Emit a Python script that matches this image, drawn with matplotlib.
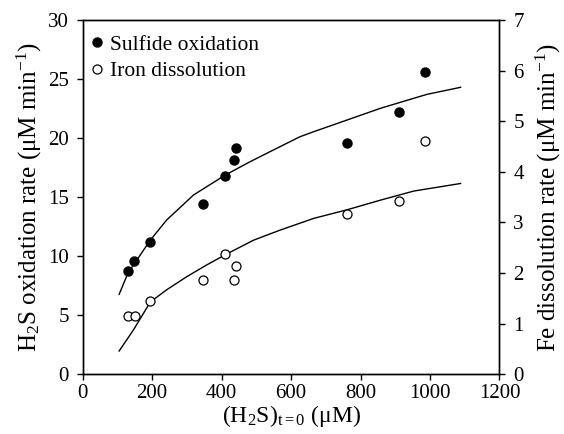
import matplotlib
matplotlib.use("Agg")
import matplotlib.pyplot as plt

plt.rcParams['font.family'] = ['Liberation Serif', 'DejaVu Serif']
plt.rcParams['mathtext.fontset'] = 'custom'
plt.rcParams['mathtext.rm'] = 'Liberation Serif'
plt.rcParams['mathtext.it'] = 'Liberation Serif:italic'
plt.rcParams['mathtext.bf'] = 'Liberation Serif:bold'

# Data
sulfide_x = [130, 149, 195, 346, 411, 437, 440, 762, 911, 987]
sulfide_y = [8.77, 9.57, 11.23, 14.42, 16.77, 18.17, 19.16, 19.56, 22.24, 25.57]

iron_x = [130, 150, 195, 345, 410, 440, 437, 762, 911, 987]
iron_y = [1.15, 1.16, 1.44, 1.86, 2.37, 2.14, 1.86, 3.16, 3.43, 4.61]

sulfide_fit_x = [105, 130, 195, 242, 319, 411, 482, 559, 626, 665, 761, 857, 953, 992, 1088]
sulfide_fit_y = [6.77, 8.55, 11.37, 13.07, 15.18, 16.88, 18.0, 19.14, 20.12, 20.54, 21.53, 22.52, 23.37, 23.71, 24.3]

iron_fit_x = [105, 146, 195, 242, 300, 357, 410, 492, 569, 665, 761, 857, 953, 1088]
iron_fit_y = [0.46, 0.875, 1.43, 1.67, 1.93, 2.16, 2.36, 2.65, 2.85, 3.08, 3.25, 3.44, 3.62, 3.77]

xticks = [0, 200, 400, 600, 800, 1000, 1200]
left_ticks = [0, 5, 10, 15, 20, 25, 30]
right_ticks = [0, 1, 2, 3, 4, 5, 6, 7]

fig = plt.figure(figsize=(5.64, 4.34), dpi=100)
ax = fig.add_axes([0.1466, 0.1376, 0.7390, 0.8163])
ax2 = ax.twinx()

ax.plot(sulfide_fit_x, sulfide_fit_y, color='black', lw=1.0)
l1, = ax.plot(sulfide_x, sulfide_y, 'o', color='black', ms=6.5, ls='none',
              label='Sulfide oxidation')
ax2.plot(iron_fit_x, iron_fit_y, color='black', lw=1.0)
l2, = ax2.plot(iron_x, iron_y, 'o', mfc='white', mec='black', mew=0.9, ms=6.5,
               ls='none', label='Iron dissolution')

ax.set_xlim(0, 1200)
ax.set_ylim(0, 30)
ax2.set_ylim(0, 7)
ax.set_xticks(xticks)
ax.set_yticks(left_ticks)
ax2.set_yticks(right_ticks)

fs = 15
ax.tick_params(axis='y', direction='out', length=4, width=1, labelsize=fs, pad=6)
ax.tick_params(axis='x', direction='out', length=4, width=1, labelsize=fs, pad=3)
ax2.tick_params(axis='y', direction='out', length=4, width=1, labelsize=fs, pad=6)
for a in (ax, ax2):
    for s in a.spines.values():
        s.set_linewidth(1.0)

lfs = 18
ax.set_xlabel(r'(H$_2$S)$_{\mathrm{t=0}}$ (μM)', fontsize=17, labelpad=0)
ax.set_ylabel(r'H$_2$S oxidation rate (μM min$^{-1}$)', fontsize=lfs, labelpad=3)
ax2.set_ylabel(r'Fe dissolution rate (μM min$^{-1}$)', fontsize=lfs, labelpad=7)

ax2.legend(handles=[l1, l2], loc='upper left', bbox_to_anchor=(0.014, 0.958),
           frameon=False, fontsize=15.5, handletextpad=0.2, handlelength=0.8,
           borderaxespad=0, labelspacing=0.3, borderpad=0)

fig.savefig('out.png', dpi=100)
